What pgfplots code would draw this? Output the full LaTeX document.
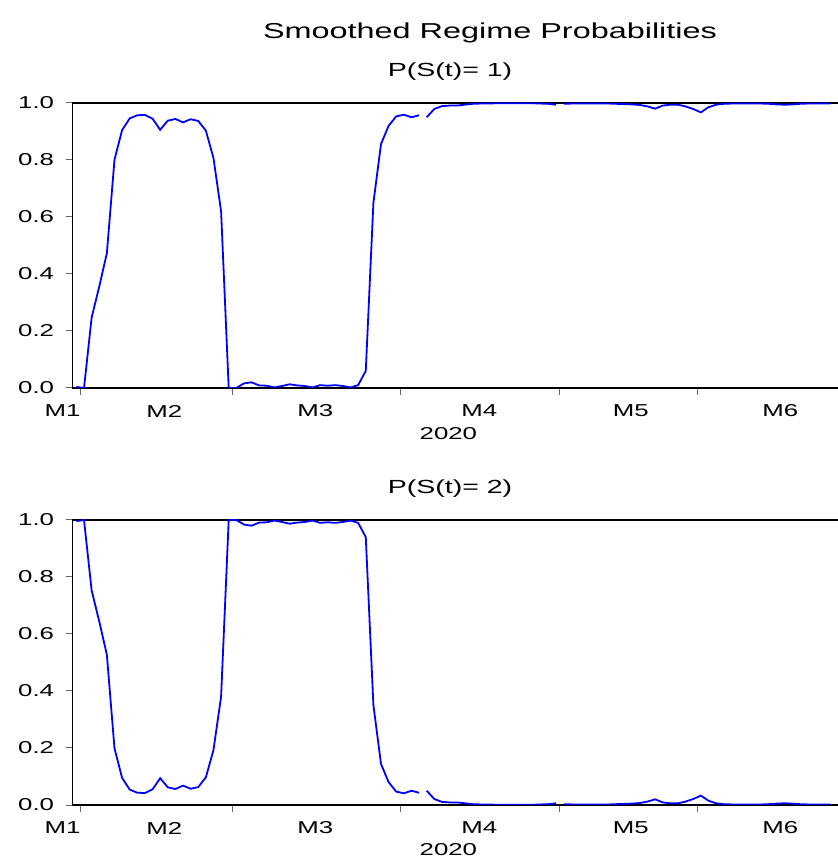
\documentclass[border=0pt]{standalone}
\usepackage{fontspec}
\setmainfont{Liberation Sans}[FakeStretch=1.5]
\usepackage{pgfplots}
\usepackage{pgfplotstable}
\pgfplotsset{compat=1.18}

\pgfplotstableread{
i p
0 0.004
1 0.000
2 0.247
3 0.356
4 0.473
5 0.801
6 0.905
7 0.946
8 0.957
9 0.958
10 0.945
11 0.906
12 0.938
13 0.944
14 0.932
15 0.943
16 0.937
17 0.903
18 0.807
19 0.620
20 0.000
21 0.000
22 0.016
23 0.020
24 0.009
25 0.008
26 0.002
27 0.007
28 0.013
29 0.009
30 0.007
31 0.002
32 0.010
33 0.008
34 0.010
35 0.007
36 0.002
37 0.010
38 0.060
39 0.649
40 0.856
41 0.920
42 0.953
43 0.959
44 0.950
45 0.957
45.5 nan
46 0.950
47 0.979
48 0.989
49 0.991
50 0.991
51 0.994
52 0.997
53 0.998
54 0.998
55 0.999
56 0.999
57 0.999
58 0.999
59 0.999
60 0.999
61 0.998
62 0.997
63 0.994
63.5 nan
64 0.997
65 0.998
66 0.998
67 0.998
68 0.998
69 0.998
70 0.998
71 0.997
72 0.996
73 0.995
74 0.993
75 0.988
76 0.980
77 0.991
78 0.994
79 0.994
80 0.988
81 0.979
82 0.967
83 0.985
84 0.994
85 0.997
86 0.998
87 0.998
88 0.998
89 0.998
90 0.998
91 0.997
92 0.995
93 0.994
94 0.995
95 0.997
96 0.998
97 0.998
98 0.998
99 0.998
99.5 nan
100 0.998
101 0.998
}\regimeone

\pgfplotstableread{
i p
0 0.996
1 1.000
2 0.753
3 0.644
4 0.527
5 0.199
6 0.095
7 0.054
8 0.043
9 0.042
10 0.055
11 0.094
12 0.062
13 0.056
14 0.068
15 0.057
16 0.063
17 0.097
18 0.193
19 0.380
20 1.000
21 1.000
22 0.984
23 0.980
24 0.991
25 0.992
26 0.998
27 0.993
28 0.987
29 0.991
30 0.993
31 0.998
32 0.990
33 0.992
34 0.990
35 0.993
36 0.998
37 0.990
38 0.940
39 0.351
40 0.144
41 0.080
42 0.047
43 0.041
44 0.050
45 0.043
45.5 nan
46 0.050
47 0.021
48 0.011
49 0.009
50 0.009
51 0.006
52 0.003
53 0.002
54 0.002
55 0.001
56 0.001
57 0.001
58 0.001
59 0.001
60 0.001
61 0.002
62 0.003
63 0.006
63.5 nan
64 0.003
65 0.002
66 0.002
67 0.002
68 0.002
69 0.002
70 0.002
71 0.003
72 0.004
73 0.005
74 0.007
75 0.012
76 0.020
77 0.009
78 0.006
79 0.006
80 0.012
81 0.021
82 0.033
83 0.015
84 0.006
85 0.003
86 0.002
87 0.002
88 0.002
89 0.002
90 0.002
91 0.003
92 0.005
93 0.006
94 0.005
95 0.003
96 0.002
97 0.002
98 0.002
99 0.002
99.5 nan
100 0.002
101 0.002
}\regimetwo

\newcommand{\tickfont}{\fontsize{17.2bp}{20bp}\selectfont}

\pgfplotsset{
  regime/.style={
    anchor=south west,
    scale only axis,
    width=769.1bp, height=285bp,
    xmin=-0.5, xmax=100.5, ymin=0, ymax=1,
    xtick={0.5,20.5,42.5,63.5,81.5},
    xticklabels={},
    ytick={0,0.2,0.4,0.6,0.8,1.0},
    yticklabel style={xshift=-8bp, /pgf/number format/.cd, fixed, fixed zerofill, precision=1, assume math mode=true},
    tick label style={font=\tickfont},
    tick align=outside,
    major tick length=7bp,
    xtick pos=bottom, ytick pos=left,
    tick style={color=black!60, line width=1bp},
    axis line style={black, line width=1.2bp},
    clip mode=individual,
    unbounded coords=jump,
  },
  regline/.style={color=blue, line width=1.8bp, no marks},
}

\begin{document}
\begin{tikzpicture}
\begin{axis}[regime, at={(72.6bp,472bp)}]
\addplot[regline] table[x=i, y=p] {\regimeone};
\node[font=\tickfont, yshift=-23bp] at (axis cs:-1.83,0) {M1};
\node[font=\tickfont, yshift=-23bp] at (axis cs:11.54,0) {M2};
\node[font=\tickfont, yshift=-23bp] at (axis cs:31.37,0) {M3};
\node[font=\tickfont, yshift=-23bp] at (axis cs:52.92,0) {M4};
\node[font=\tickfont, yshift=-23bp] at (axis cs:72.79,0) {M5};
\node[font=\tickfont, yshift=-23bp] at (axis cs:92.44,0) {M6};
\node[font=\tickfont, yshift=-46bp] at (axis cs:48.85,0) {2020};
\end{axis}
\begin{axis}[regime, at={(72.6bp,55bp)}]
\addplot[regline] table[x=i, y=p] {\regimetwo};
\node[font=\tickfont, yshift=-23bp] at (axis cs:-1.83,0) {M1};
\node[font=\tickfont, yshift=-23bp] at (axis cs:11.54,0) {M2};
\node[font=\tickfont, yshift=-23bp] at (axis cs:31.37,0) {M3};
\node[font=\tickfont, yshift=-23bp] at (axis cs:52.92,0) {M4};
\node[font=\tickfont, yshift=-23bp] at (axis cs:72.79,0) {M5};
\node[font=\tickfont, yshift=-23bp] at (axis cs:92.44,0) {M6};
\node[font=\tickfont, yshift=-45bp] at (axis cs:48.85,0) {2020};
\end{axis}
\node[anchor=base, font=\fontsize{21.6bp}{26bp}\selectfont] at (490bp,821bp) {Smoothed Regime Probabilities};
\node[font=\fontsize{19bp}{23bp}\selectfont] at (450bp,788.5bp) {P(S(t)= 1)};
\node[font=\fontsize{19bp}{23bp}\selectfont] at (450bp,371bp) {P(S(t)= 2)};
\pgfresetboundingbox
\path[use as bounding box] (0,0) rectangle (838bp,860bp);
\end{tikzpicture}
\end{document}
